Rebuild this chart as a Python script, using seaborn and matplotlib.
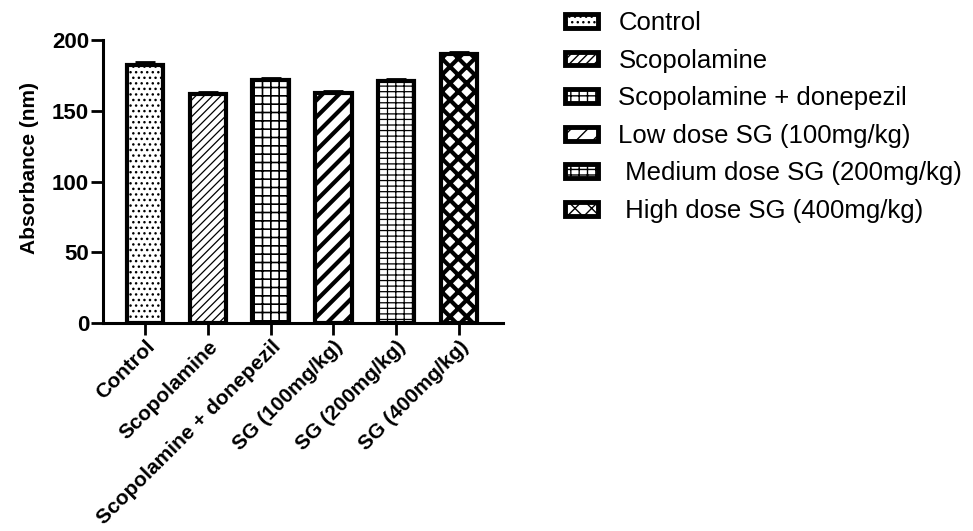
import matplotlib
matplotlib.use("Agg")
import matplotlib.pyplot as plt
import seaborn as sns
import pandas as pd
from matplotlib.patches import Patch

# Group labels on the x axis and in the legend
groups = ["Control", "Scopolamine", "Scopolamine + donepezil",
          "SG (100mg/kg)", "SG (200mg/kg)", "SG (400mg/kg)"]
legend_labels = ["Control", "Scopolamine", "Scopolamine + donepezil",
                 "Low dose SG (100mg/kg)", " Medium dose SG (200mg/kg)",
                 " High dose SG (400mg/kg)"]

# Mean absorbance and standard error per group
absorbance = [182.5, 161.5, 171.5, 162.5, 171.0, 190.0]
sem = [1.8, 1.8, 1.5, 1.5, 1.7, 1.6]

# Fill pattern per group
hatches = ["...", "////", "++", "//", "---||", "xx"]
hatch_widths = [1.0, 0.9, 1.2, 3.0, 0.9, 3.0]

sns.set_style("ticks", {"text.color": "black", "axes.labelcolor": "black",
                        "xtick.color": "black", "ytick.color": "black",
                        "axes.edgecolor": "black"})
plt.rcParams["font.family"] = ["Liberation Sans", "DejaVu Sans"]

fig = plt.figure(figsize=(9.73, 5.31), dpi=100)
ax = fig.add_axes([103 / 973, 1 - 323 / 531, 400 / 973, 283 / 531])

df = pd.DataFrame({"group": groups, "absorbance": absorbance})
sns.barplot(data=df, x="group", y="absorbance", hue="group",
            palette={g: "white" for g in groups}, edgecolor="black",
            linewidth=3.0, width=0.58, errorbar=None, legend=False, ax=ax)

bars = sorted(ax.patches, key=lambda p: p.get_x())
for bar, h, w in zip(bars, hatches, hatch_widths):
    bar.set_hatch(h)
    if hasattr(bar, "set_hatch_linewidth"):
        bar.set_hatch_linewidth(w)

# mean + SEM (upper whisker only)
centers = [b.get_x() + b.get_width() / 2 for b in bars]
ax.errorbar(centers, absorbance, yerr=[[0] * len(sem), sem], fmt="none",
            ecolor="black", elinewidth=2, capsize=7, capthick=2, zorder=5)

ax.set_ylim(0, 200)
ax.set_yticks([0, 50, 100, 150, 200])
ax.set_xlim(-0.67, 5.70)
sns.despine(ax=ax)
for side in ("left", "bottom"):
    ax.spines[side].set_linewidth(2.2)
ax.tick_params(axis="both", length=8.5, width=2, pad=1.5, labelsize=16,
               colors="black")
for lbl in ax.get_yticklabels():
    lbl.set_fontweight("bold")
ax.set_xticks(range(len(groups)))
ax.set_xticklabels(groups, rotation=45, ha="right", rotation_mode="anchor",
                   fontweight="bold", fontsize=15)
ax.set_xlabel("")
ax.set_ylabel("Absorbance (nm)", fontsize=15, fontweight="bold")
ax.yaxis.set_label_coords(-0.16, 0.548)

handles = []
for h, w in zip(hatches, hatch_widths):
    p = Patch(facecolor="white", edgecolor="black", hatch=h, linewidth=3.5)
    if hasattr(p, "set_hatch_linewidth"):
        p.set_hatch_linewidth(w)
    handles.append(p)
fig.legend(handles, legend_labels, loc="upper left",
           bbox_to_anchor=(565 / 973, 1 - 11 / 531), frameon=False,
           fontsize=18.5, handlelength=1.3, handleheight=0.45,
           handletextpad=0.78, labelspacing=0.53, borderpad=0,
           borderaxespad=0)

fig.savefig("out.png", dpi=100)
